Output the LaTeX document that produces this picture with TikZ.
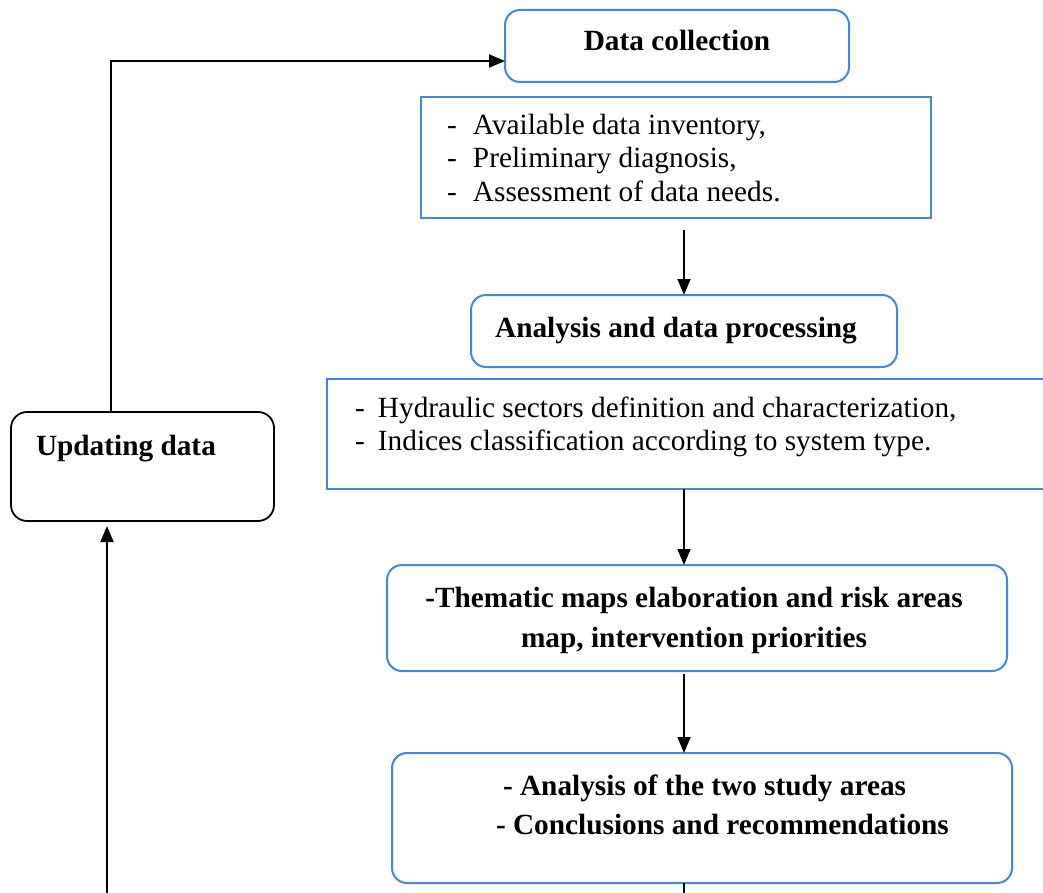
\documentclass[tikz,border=0pt]{standalone}
\usepackage{fontspec}
\setmainfont{Liberation Serif}
\usetikzlibrary{arrows.meta}
\definecolor{boxblue}{RGB}{66,135,230}
\begin{document}
\begin{tikzpicture}[x=1pt,y=-1pt,
  every node/.style={font=\fontsize{29.3}{34}\selectfont, inner sep=0pt, outer sep=0pt},
  bluebox/.style={draw=boxblue, line width=2pt, rounded corners=15pt, anchor=north west},
  listbox/.style={draw=boxblue, line width=2pt, anchor=north west},
  blackbox/.style={draw=black, line width=1.8pt, rounded corners=16pt, anchor=north west},
  conn/.style={line width=1.8pt, -{Triangle[length=16pt,width=13pt]}},
  plainline/.style={line width=1.8pt},
  txt/.style={anchor=base west},
  btxt/.style={anchor=base, font=\fontsize{29.3}{34}\selectfont\bfseries},
  bltxt/.style={anchor=base west, font=\fontsize{29.3}{34}\selectfont\bfseries},
]
\useasboundingbox (0,0) rectangle (1043,893);

% boxes
\node[bluebox, minimum width=344pt, minimum height=72pt] (dc) at (505,10) {};
\node[listbox, minimum width=510pt, minimum height=121pt] (l1) at (421,97) {};
\node[bluebox, minimum width=426pt, minimum height=72pt] (ap) at (471,295) {};
\node[listbox, minimum width=720pt, minimum height=110pt] (l2) at (327,379) {};
\node[bluebox, minimum width=620pt, minimum height=106pt] (tm) at (387,565) {};
\node[bluebox, minimum width=620pt, minimum height=130pt] (an) at (392,753) {};
\node[blackbox, minimum width=263pt, minimum height=109pt] (ud) at (11,412) {};

% texts
\node[btxt] (dct) at (677,51) {Data collection};
\node[txt] (l1a) at (447,135) {\makebox[26pt][l]{-}Available data inventory,};
\node[txt] (l1b) at (447,168) {\makebox[26pt][l]{-}Preliminary diagnosis,};
\node[txt] (l1c) at (447,202) {\makebox[26pt][l]{-}Assessment of data needs.};
\node[btxt] (apt) at (676,337) {Analysis and data processing};
\node[txt] (l2a) at (355,417) {\makebox[23pt][l]{-}Hydraulic sectors definition and characterization,};
\node[txt] (l2b) at (355,450) {\makebox[23pt][l]{-}Indices classification according to system type.};
\node[btxt] (tma) at (694,607) {-Thematic maps elaboration and risk areas};
\node[btxt] (tmb) at (694,647) {map, intervention priorities};
\node[bltxt] (ana) at (503,795) {- Analysis of the two study areas};
\node[bltxt] (anb) at (496,834) {- Conclusions and recommendations};
\node[bltxt] (udt) at (36,455) {Updating data};

% connectors
\coordinate (a1s) at (684,230);
\draw[conn] (a1s) -- (ap.north -| a1s);
\draw[conn] (l2.south -| a1s) -- (tm.north -| a1s);
\draw[conn, shorten <=3pt] (tm.south -| a1s) -- (an.north -| a1s);
\coordinate (bot1) at (684,900);
\draw[plainline] (an.south -| a1s) -- (bot1);
\coordinate (bot2) at (107,900);
\draw[conn, shorten >=5pt] (bot2) -- (bot2 |- ud.south);
\draw[conn] ([xshift=-31.5pt]ud.north) |- ([yshift=-15pt]dc.west);
\end{tikzpicture}
\end{document}
